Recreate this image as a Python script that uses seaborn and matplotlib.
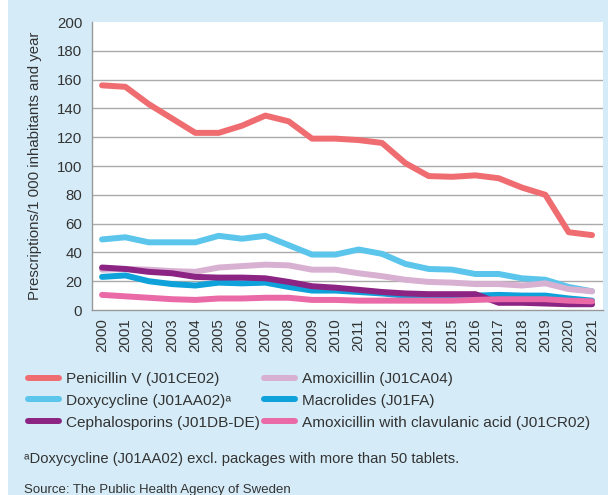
import numpy as np
import pandas as pd
import matplotlib
matplotlib.use('Agg')
import matplotlib.pyplot as plt
import seaborn as sns
from matplotlib.patches import Rectangle


# values
years = list(range(2000, 2022))
penicillin = [156, 155, 143, 133, 123, 123, 128, 135, 131, 119, 119, 118,
              116, 102, 93, 92.5, 93.5, 91.5, 85, 80, 54, 52]
doxycycline = [49, 50.5, 47, 47, 47, 51.5, 49.5, 51.5, 45, 38.5, 38.5, 42,
               39, 32, 28.5, 28, 25, 25, 22, 21, 16, 13]
amoxicillin = [28, 28.5, 28, 27, 26.5, 29.5, 30.5, 31.5, 31, 28, 28, 25.5,
               23.5, 21, 19.5, 19, 18, 18, 17, 18.5, 14.5, 13]
macrolides = [23, 24, 20, 18, 17, 19, 18.5, 19, 16, 13.5, 13.5, 12.5,
              11.5, 10, 10, 10, 10, 10.5, 10, 10, 8, 6.5]
cephalosporins = [29.5, 28.5, 26.5, 25.5, 23, 22.5, 22.5, 22, 19.5, 16.5, 15.5, 14,
                  12.5, 11.5, 11, 11, 11, 5, 5, 4.5, 4, 4]
amox_clav = [10.5, 9.5, 8.5, 7.5, 7, 8, 8, 8.5, 8.5, 7, 7, 6.5,
             6.5, 6.5, 6.5, 6.5, 7, 7.5, 7.5, 7.5, 6.5, 6]

series = {
    'Penicillin V (J01CE02)': (penicillin, '#ef6d71'),
    'Doxycycline (J01AA02)ᵃ': (doxycycline, '#5bc5ec'),
    'Amoxicillin (J01CA04)': (amoxicillin, '#d8b0d1'),
    'Macrolides (J01FA)': (macrolides, '#0ea1da'),
    'Cephalosporins (J01DB-DE)': (cephalosporins, '#8c2483'),
    'Amoxicillin with clavulanic acid (J01CR02)': (amox_clav, '#e96aa6'),
}
legend_order = ['Penicillin V (J01CE02)', 'Doxycycline (J01AA02)ᵃ',
                'Cephalosporins (J01DB-DE)', 'Amoxicillin (J01CA04)',
                'Macrolides (J01FA)', 'Amoxicillin with clavulanic acid (J01CR02)']

sns.set_style('white')
plt.rcParams['font.family'] = ['Liberation Sans', 'DejaVu Sans']

bg = '#d5ecf8'
text_col = '#333333'
fig = plt.figure(figsize=(6.08, 4.95), dpi=100)
fig.patch.set_facecolor(bg)
# thin white strip on the left edge
fig.patches.append(Rectangle((0, 0), 8 / 608, 1, transform=fig.transFigure,
                             facecolor='white', edgecolor='none', zorder=0))

ax = fig.add_axes([92 / 608, 1 - 310 / 495, 511 / 608, 288 / 495])
ax.set_facecolor('white')

# draw each drug series
for name, (vals, color) in series.items():
    df = pd.DataFrame({'year': years, 'value': vals})
    sns.lineplot(data=df, x='year', y='value', ax=ax, color=color, lw=4.3,
                 label=name, solid_capstyle='round', solid_joinstyle='round')

ax.set_ylim(0, 200)
ax.set_xlim(1999.57, 2021.47)
ax.set_yticks(range(0, 201, 20))
ax.set_xticks(years)
ax.set_xticklabels([str(y) for y in years], rotation=90, fontsize=10.8, color=text_col)
ax.tick_params(axis='y', labelsize=10.8, labelcolor=text_col, length=0, pad=7)
ax.tick_params(axis='x', length=0, pad=6)
for y in range(20, 200, 20):
    ax.axhline(y, color='#aaaaaa', lw=1, zorder=0)
for side in ['top', 'right']:
    ax.spines[side].set_visible(False)
for side in ['left', 'bottom']:
    ax.spines[side].set_color('#999999')
    ax.spines[side].set_linewidth(1)
ax.set_xlabel('')
ax.set_ylabel('Prescriptions/1 000 inhabitants and year', fontsize=10.8,
              color=text_col, labelpad=11)

# legend in two columns below the axis
handles, labels = ax.get_legend_handles_labels()
hmap = dict(zip(labels, handles))
ax.get_legend().remove()
fig.legend([hmap[l] for l in legend_order], legend_order, ncol=2, frameon=False,
           loc='upper left', bbox_to_anchor=(22 / 608, 1 - 366 / 495),
           fontsize=11.1, handlelength=2.0, handletextpad=0.45,
           labelspacing=0.5, columnspacing=0.3, borderaxespad=0,
           labelcolor=text_col)

fig.text(24 / 608, 1 - 459 / 495,
         'ᵃDoxycycline (J01AA02) excl. packages with more than 50 tablets.',
         fontsize=10.6, color=text_col, va='center')
fig.text(24 / 608, 1 - 490 / 495, 'Source: The Public Health Agency of Sweden',
         fontsize=9.5, color=text_col, va='center')

fig.savefig('out.png', dpi=100, facecolor=fig.get_facecolor())
